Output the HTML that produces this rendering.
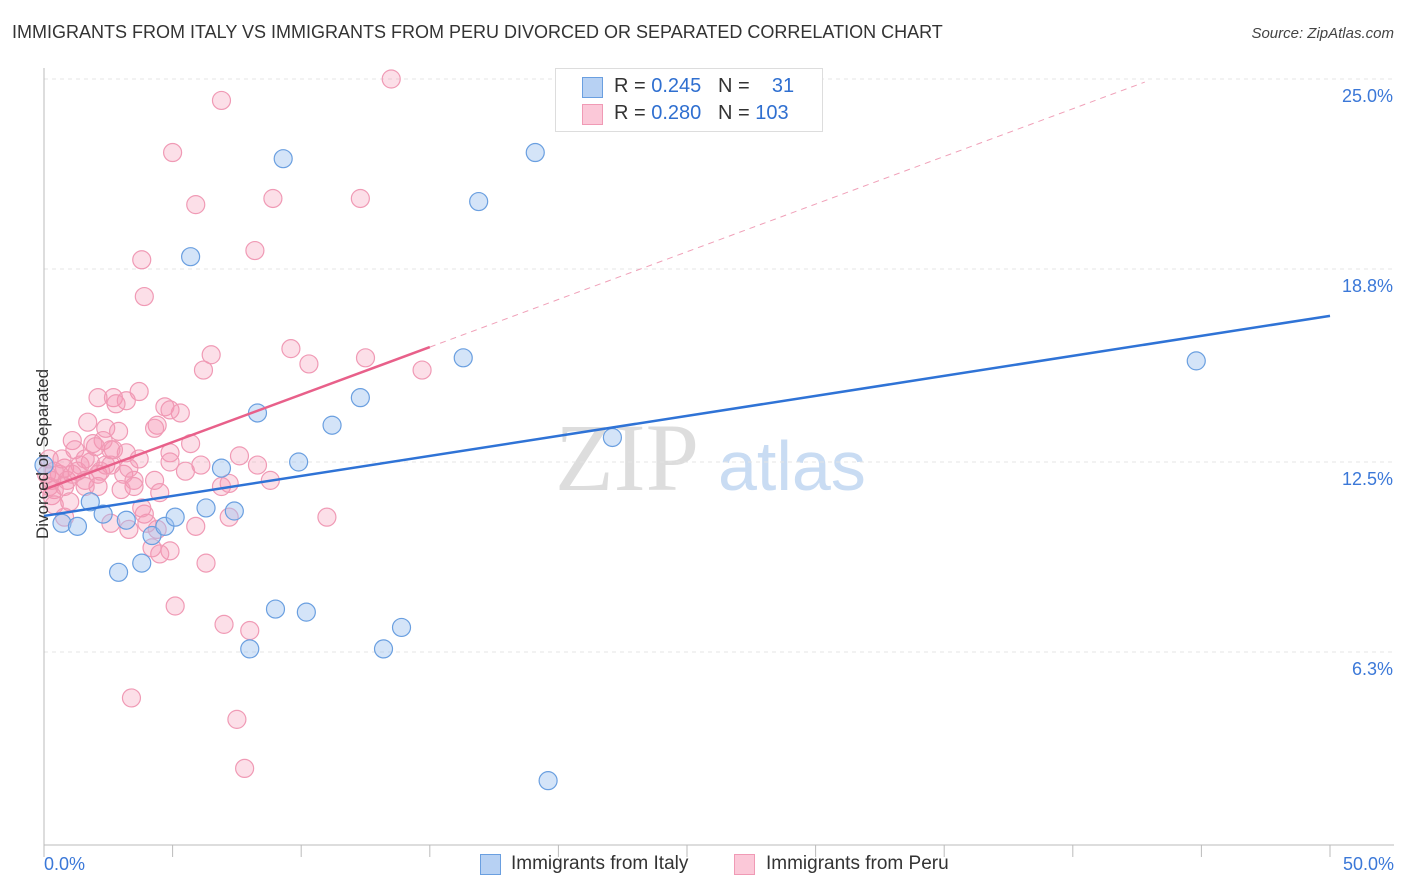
<!DOCTYPE html>
<html><head><meta charset="utf-8">
<style>
body{margin:0;background:#fff;font-family:"Liberation Sans",sans-serif;}
#wrap{position:relative;width:1406px;height:892px;overflow:hidden;}
.t{position:absolute;white-space:nowrap;}
</style></head>
<body><div id="wrap">
<div class="t" style="left:12px;top:22px;font-size:18px;color:#333;">IMMIGRANTS FROM ITALY VS IMMIGRANTS FROM PERU DIVORCED OR SEPARATED CORRELATION CHART</div>
<div class="t" style="right:12px;top:25px;font-size:15px;color:#444;font-style:italic;">Source: ZipAtlas.com</div>
<svg id="svg" width="1406" height="892" style="position:absolute;left:0;top:0">
<text x="555" y="490" font-family="Liberation Serif,serif" font-size="96" fill="#ddd">ZIP</text>
<text x="718" y="490" font-family="Liberation Sans,sans-serif" font-size="70" fill="#c9dcf3">atlas</text>
</svg>
<div class="t" style="left:-42px;top:444px;font-size:17px;color:#333;transform:rotate(-90deg);">Divorced or Separated</div>
<div style="position:absolute;left:555px;top:68px;width:266px;height:62px;border:1px solid #ddd;background:#fff;font-size:20px;color:#333;">
<div style="position:absolute;left:26px;top:8px;width:19px;height:19px;background:#b7d1f3;border:1px solid #6a9fe0;"></div>
<div class="t" style="left:58px;top:6px;">R = <span style="color:#2f6fd0">0.245</span>&nbsp;&nbsp;&nbsp;N = &nbsp;&nbsp;&nbsp;<span style="color:#2f6fd0">31</span></div>
<div style="position:absolute;left:26px;top:35px;width:19px;height:19px;background:#fbc8d8;border:1px solid #f09ab5;"></div>
<div class="t" style="left:58px;top:33px;">R = <span style="color:#2f6fd0">0.280</span>&nbsp;&nbsp;&nbsp;N = <span style="color:#2f6fd0">103</span></div>
</div>
<div style="position:absolute;left:480px;top:854px;width:19px;height:19px;background:#b7d1f3;border:1px solid #6a9fe0;"></div>
<div class="t" style="left:511px;top:853px;font-size:19px;color:#333;">Immigrants from Italy</div>
<div style="position:absolute;left:734px;top:854px;width:19px;height:19px;background:#fbc8d8;border:1px solid #f09ab5;"></div>
<div class="t" style="left:766px;top:853px;font-size:19px;color:#333;">Immigrants from Peru</div>
<script>
const yTicks=[25.0,18.8,12.5,6.3];
const yTickLabels=["25.0%","18.8%","12.5%","6.3%"];
const xTickValues=[0,5,10,15,20,25,30,35,40,45,50];
const xEndLabels=["0.0%","50.0%"];
const italyX=[0.0,0.7,1.3,1.8,2.3,2.9,3.2,3.8,4.2,4.7,5.1,5.7,6.3,6.9,7.4,8.0,8.3,9.0,9.3,9.9,10.2,11.2,12.3,13.2,13.9,16.3,16.9,19.1,19.6,22.1,44.8];
const italyY=[12.4,10.5,10.4,11.2,10.8,8.9,10.6,9.2,10.1,10.4,10.7,19.2,11.0,12.3,10.9,6.4,14.1,7.7,22.4,12.5,7.6,13.7,14.6,6.4,7.1,15.9,21.0,22.6,2.1,13.3,15.8];
const peruX=[13.5,6.9,5.0,5.9,8.9,12.3,3.8,8.2,3.9,6.5,9.6,10.3,12.5,14.7,6.2,3.7,2.1,2.7,3.2,2.8,4.7,5.3,4.9,4.4,4.3,1.7,2.4,2.9,1.1,1.9,2.3,5.7,4.9,1.2,2.0,2.7,3.2,3.7,1.8,1.4,0.8,0.4,0.6,0.1,0.2,0.3,0.4,0.9,1.3,1.6,2.1,2.4,2.6,3.1,3.3,5.5,6.1,7.6,8.3,8.8,6.9,7.2,3.5,3.5,4.3,4.5,3.0,2.1,1.6,0.8,0.3,0.4,1.0,0.8,2.6,3.3,3.9,4.0,3.8,4.4,5.9,7.2,11.0,4.9,4.5,4.2,6.3,5.1,7.0,8.0,3.4,7.5,7.8,2.6,0.7,0.2,1.1,2.2,1.6,4.9];
const peruY=[25.0,24.3,22.6,20.9,21.1,21.1,19.1,19.4,17.9,16.0,16.2,15.7,15.9,15.5,15.5,14.8,14.6,14.6,14.5,14.4,14.3,14.1,14.2,13.7,13.6,13.8,13.6,13.5,13.2,13.1,13.2,13.1,12.8,12.9,13.0,12.9,12.8,12.6,12.5,12.4,12.3,12.2,12.1,12.1,11.7,11.9,11.6,11.9,12.2,11.9,12.1,12.4,12.4,12.1,12.3,12.2,12.4,12.7,12.4,11.9,11.7,11.8,11.9,11.7,11.9,11.5,11.6,11.7,11.7,11.7,11.4,11.1,11.2,10.7,10.5,10.3,10.8,10.5,11.0,10.3,10.4,10.7,10.7,9.6,9.5,9.7,9.2,7.8,7.2,7.0,4.8,4.1,2.5,12.9,12.6,12.6,12.1,12.2,12.6,12.5];
const italyTrend=[[0,10.74],[50,17.27]];
const peruTrend=[[0,11.6],[15,16.25]];
const peruTrendExt=[[15,16.25],[42.8,24.9]];

const X=v=>44+v*25.72;
const Y=v=>462-(v-12.5)*30.64;
const svg=document.getElementById('svg');
const NS='http://www.w3.org/2000/svg';
function mk(tag,attrs){const e=document.createElementNS(NS,tag);for(const k in attrs)e.setAttribute(k,attrs[k]);svg.appendChild(e);return e;}
// grid
yTicks.forEach((t,i)=>{
 const g=mk('line',{x1:44,x2:1394,y1:Y(t),y2:Y(t),stroke:'#e4e4e4','stroke-dasharray':'4,4'});
 
 
 const tx=mk('text',{x:1393,y:Y(t)+23,'text-anchor':'end','font-size':18,fill:'#3b78d8','font-family':'Liberation Sans,sans-serif'});
 tx.textContent=yTickLabels[i];
 
 
});
const ax=mk('line',{x1:44,x2:44,y1:68,y2:Y(0),stroke:'#bbb'});


const bx=mk('line',{x1:44,x2:1394,y1:Y(0),y2:Y(0),stroke:'#bbb'});


xTickValues.forEach(v=>{
 const t=mk('line',{x1:X(v),x2:X(v),y1:Y(0),y2:Y(0)+12,stroke:'#bbb'});
 
 
});
[[0,'start',44],[50,'end',1394]].forEach((d,i)=>{
 const tx=mk('text',{x:d[2],y:870,'text-anchor':d[1],'font-size':18,fill:'#3b78d8','font-family':'Liberation Sans,sans-serif'});
 tx.textContent=xEndLabels[i];
 
 
});
// points
for(let i=0;i<peruX.length;i++){
 const c=mk('circle',{cx:X(peruX[i]),cy:Y(peruY[i]),r:9,fill:'rgba(245,150,180,0.3)',stroke:'#f09ab5','stroke-width':1.2});
 
 
}
for(let i=0;i<italyX.length;i++){
 const c=mk('circle',{cx:X(italyX[i]),cy:Y(italyY[i]),r:9,fill:'rgba(160,196,240,0.45)',stroke:'#6a9fe0','stroke-width':1.2});
 
 
}
const pe=mk('line',{x1:X(peruTrendExt[0][0]),y1:Y(peruTrendExt[0][1]),x2:X(peruTrendExt[1][0]),y2:Y(peruTrendExt[1][1]),stroke:'#f0a0b8','stroke-dasharray':'6,5','stroke-width':1});


const pt=mk('line',{x1:X(peruTrend[0][0]),y1:Y(peruTrend[0][1]),x2:X(peruTrend[1][0]),y2:Y(peruTrend[1][1]),stroke:'#e8608a','stroke-width':2.5});


const it=mk('line',{x1:X(italyTrend[0][0]),y1:Y(italyTrend[0][1]),x2:X(italyTrend[1][0]),y2:Y(italyTrend[1][1]),stroke:'#2f73d6','stroke-width':2.5});


</script>
</div></body></html>
